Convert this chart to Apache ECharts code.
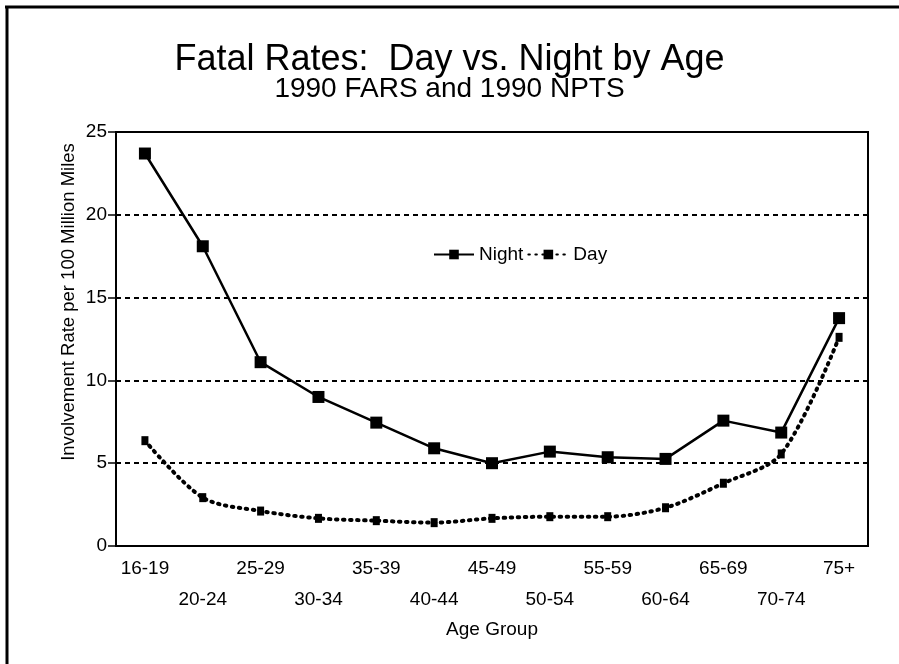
<!DOCTYPE html>
<html>
<head>
<meta charset="utf-8">
<script src="https://cdn.jsdelivr.net/npm/echarts@6/dist/echarts.min.js"></script>
<style>
html,body{margin:0;padding:0;background:#fff;}
#c{width:899px;height:664px;}
</style>
</head>
<body>
<div id="c"></div>
<script>
const categories = ['16-19','20-24','25-29','30-34','35-39','40-44','45-49','50-54','55-59','60-64','65-69','70-74','75+'];
const nightValues = [23.7, 18.1, 11.1, 9.0, 7.45, 5.9, 5.0, 5.7, 5.36, 5.26, 7.57, 6.85, 13.76];
const dayValues = [6.36, 2.92, 2.11, 1.67, 1.53, 1.41, 1.67, 1.77, 1.77, 2.31, 3.79, 5.56, 12.6];
const yTicks = [0, 5, 10, 15, 20, 25];
const yAxisTitle = 'Involvement Rate per 100 Million Miles';

const FONT = '"Liberation Sans Narrow", "Arial Narrow", "Liberation Sans", Arial, sans-serif';
const chart = echarts.init(document.getElementById('c'), null, {renderer: 'canvas'});
chart.setOption({
  backgroundColor: '#fff',
  animation: false,
  title: [
    {text: 'Fatal Rates:  Day vs. Night by Age', left: 'center', top: 37,
     textStyle: {fontFamily: FONT, fontSize: 36, fontWeight: 'normal', color: '#000'}},
    {text: '1990 FARS and 1990 NPTS', left: 'center', top: 70,
     textStyle: {fontFamily: FONT, fontSize: 28, fontWeight: 'normal', color: '#000'}}
  ],
  graphic: [
    {type: 'line', shape: {x1: 5, y1: 7, x2: 899, y2: 7}, style: {stroke: '#000', lineWidth: 3}},
    {type: 'line', shape: {x1: 7, y1: 6, x2: 7, y2: 664}, style: {stroke: '#000', lineWidth: 3}},
    {type: 'text', x: 69, y: 302, rotation: Math.PI / 2,
     style: {text: yAxisTitle, fill: '#000', font: '18.5px "Liberation Sans", Arial, sans-serif',
             textAlign: 'center', textVerticalAlign: 'middle'}}
  ],
  legend: {
    left: 428, top: 240,
    itemWidth: 40, itemHeight: 12, itemGap: 4,
    textStyle: {fontFamily: FONT, fontSize: 19, color: '#000'},
    data: ['Night', 'Day']
  },
  grid: {left: 116, right: 31, top: 132, bottom: 118, show: true, borderColor: '#000', borderWidth: 2},
  xAxis: {
    type: 'category', data: categories, boundaryGap: true,
    name: 'Age Group', nameLocation: 'middle', nameGap: 68,
    nameTextStyle: {fontFamily: FONT, fontSize: 19, color: '#000'},
    axisLine: {lineStyle: {color: '#000', width: 2}},
    axisTick: {alignWithLabel: true, length: 8, lineStyle: {color: '#000', width: 1.5}},
    axisLabel: {interval: 0, fontFamily: FONT, fontSize: 19, color: '#000', margin: 7, lineHeight: 31,
      formatter: (v, i) => (i % 2 ? '\n' + v : v)},
    splitLine: {show: false}
  },
  yAxis: {
    type: 'value', min: 0, max: 25, interval: 5,
    axisLine: {show: true, lineStyle: {color: '#000', width: 2}},
    axisTick: {show: true, length: 8, lineStyle: {color: '#000', width: 1.5}},
    axisLabel: {fontFamily: FONT, fontSize: 19, color: '#000', margin: 9,
      formatter: v => (yTicks.indexOf(v) >= 0 ? String(v) : '')},
    splitLine: {show: true, lineStyle: {color: '#000', width: 2, type: [5, 4]}}
  },
  series: [
    {name: 'Night', type: 'line', data: nightValues,
     symbol: 'rect', symbolSize: 12,
     itemStyle: {color: '#000'},
     lineStyle: {color: '#000', width: 2.5}},
    {name: 'Day', type: 'line', data: dayValues, smooth: 0.3,
     symbol: 'rect', symbolSize: [7, 9],
     itemStyle: {color: '#000'},
     lineStyle: {color: '#000', width: 4, type: [1.5, 5.5], cap: 'round'}}
  ]
});
</script>
</body>
</html>
